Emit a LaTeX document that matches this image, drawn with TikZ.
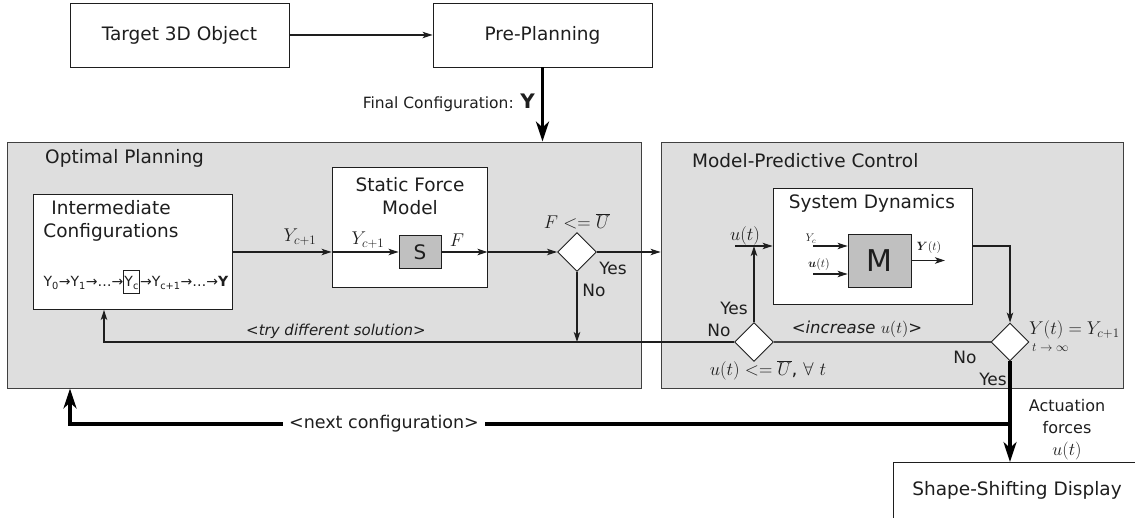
\RequirePackage{fix-cm}
\documentclass[tikz,border=0pt]{standalone}
\usepackage[no-math]{fontspec}
\setmainfont{DejaVu Sans}
\usepackage{bm}
\usetikzlibrary{arrows.meta,shapes.geometric,calc}
\definecolor{panelgray}{HTML}{DEDEDE}
\definecolor{blockgray}{HTML}{C0C0C0}
\definecolor{ink}{HTML}{1E1E1E}
\newcommand{\fs}[1]{\fontsize{#1}{#1}\selectfont}
\begin{document}
\begin{tikzpicture}[x=1pt,y=-1pt,
  font=\fontsize{18.5}{23}\selectfont, text=ink,
  box/.style={draw=ink, line width=0.9pt, fill=white, inner sep=0pt},
  panel/.style={draw=black!75, line width=0.9pt, fill=panelgray, inner sep=0pt},
  block/.style={draw=ink, line width=0.9pt, fill=blockgray, inner sep=0pt},
  decision/.style={diamond, draw=ink, line width=0.9pt, fill=white, inner sep=0pt, minimum width=39pt, minimum height=39pt},
  conn/.style={line width=1.2pt, draw=ink, -{Stealth[length=10pt,width=6.5pt,inset=2.5pt]}},
  plain/.style={line width=1.7pt, draw=black!72},
  thickconn/.style={line width=3.2pt, draw=black, -{Stealth[length=20pt,width=13pt,inset=6pt]}},
  lbl/.style={inner sep=0pt},
  small/.style={font=\fs{17}},
  ital/.style={font=\fs{15}\itshape}
]
\useasboundingbox (0,0) rectangle (1135,518);
\clip (0,0) rectangle (1135,518);

% top boxes
\node[box, minimum width=219pt, minimum height=64pt] (target) at (179.5,35) {Target 3D Object};
\node[box, minimum width=219pt, minimum height=64pt] (pre) at (542.5,35) {Pre-Planning};

% panels
\node[panel, minimum width=634pt, minimum height=246pt] (op) at (324,265) {};
\node[panel, minimum width=462pt, minimum height=246pt] (mpc) at (892,265) {};
\node[lbl, anchor=west] (optitle) at (45,158) {Optimal Planning};
\node[lbl, anchor=west] (mpctitle) at (692,161) {Model-Predictive Control};

% optimal planning content
\node[box, minimum width=199pt, minimum height=115pt] (ic) at (132.5,252) {};
\node[lbl, align=center] (ictitle) at (111,221) {Intermediate\\Configurations};
\node[lbl, font=\fs{14}] (seq) at (136,282) {Y\textsubscript{0}→Y\textsubscript{1}→…→\setlength{\fboxsep}{0.3pt}\setlength{\fboxrule}{0.8pt}\fbox{\rule[-6pt]{0pt}{22pt}Y\textsubscript{c}}→Y\textsubscript{c+1}→…→\textbf{Y}};

\node[box, minimum width=155pt, minimum height=120pt] (sfm) at (409.5,227) {};
\node[lbl, align=center] (sfmtitle) at (410,196.5) {Static Force\\Model};
\node[block, minimum width=42pt, minimum height=33pt, font=\fs{20}] (S) at (420,252) {S};

\node[decision] (d1) at (577,252) {};

% MPC content
\node[box, minimum width=199pt, minimum height=116pt] (sd) at (872.5,246) {};
\node[lbl] (sdtitle) at (872,203) {System Dynamics};
\node[block, minimum width=63pt, minimum height=53pt, font=\fs{30}] (M) at (879.5,260.5) {M};

\node[decision] (d2) at (754,342) {};
\node[decision, minimum width=38pt, minimum height=38pt] (d3) at (1010,342) {};

% bottom box
\node[box, minimum width=248pt, minimum height=70pt, anchor=north west] (ssd) at (893,462) {};
\node[lbl] (ssdtitle) at (1017,490) {Shape-Shifting Display};

% coordinates
\coordinate (sfmout) at (sfm.east |- S.east);
\coordinate (nojoin) at (d1.south |- d2.west);
\coordinate (icret) at (104,342);
\coordinate (ujoin) at (d2.north |- sd.west);
\coordinate (ustart) at (735,246);
\coordinate (ycin) at (813,246);
\coordinate (uin) at (813,274);
\coordinate (yout) at (945,260.5);
\coordinate (sdturn) at (d3.north |- sd.east);
\coordinate (br) at (1010,424);
\coordinate (bl) at (70,424);

% connectors
\draw[conn] (target.east) -- (pre.west);
\draw[thickconn] (pre.south) -- (pre.south |- op.north);
\draw[conn] (ic.east) -- (sfm.west |- ic.east);
\draw[conn] (sfm.west |- S.west) -- (S.west);
\draw[conn] (S.east) -- (sfmout);
\draw[conn] (sfmout) -- (d1.west);
\draw[conn] (d1.east) -- (mpc.west |- d1.east);
\draw[conn] (d1.south) -- (nojoin);
\draw[plain] (d3.west) -- (d2.east);
\draw[conn] (d2.west) -- (icret) -- (icret |- ic.south);
\draw[conn] (d2.north) -- (ujoin);
\draw[conn] (ustart) -- (sd.west);
\draw[conn] (ycin) -- (ycin -| M.west);
\draw[conn] (uin) -- (uin -| M.west);
\draw[conn] (yout -| M.east) -- (yout);
\draw[conn] (sd.east) -- (sdturn) -- (d3.north);
\draw[thickconn] (d3.south) -- (d3.south |- ssd.north);
\draw[thickconn] (br) -- (bl) -- (bl |- op.south);

% labels
\node[lbl, anchor=east, font=\fs{15.5}] (fc) at (535,103) {Final Configuration: {\fs{20}\bfseries Y}};
\node[lbl] (lyc1) at (300,237) {$Y_{c+1}$};
\node[lbl] (lyc2) at (368,240) {$Y_{c+1}$};
\node[lbl] (lF) at (457,240) {$F$};
\node[lbl] (lcond1) at (577,221) {$F<=\overline{U}$};
\node[lbl, small] (lyes1) at (613,268) {Yes};
\node[lbl, small] (lno1) at (594,290) {No};
\node[lbl, ital] (ltry) at (336,331) {<try different solution>};
\node[lbl] (lu) at (745,236) {$u(t)$};
\node[lbl, small] (lyes2) at (734,308) {Yes};
\node[lbl, small] (lno2) at (719,330) {No};
\node[lbl] (lcond2) at (768,370) {$u(t) <= \overline{U}$, $\forall\ t$};
\node[lbl, font=\fs{16.5}\itshape] (linc) at (857,329) {<increase $u(t)$>};
\node[lbl, font=\fs{11}] (lyc) at (811,239) {$Y_c$};
\node[lbl, font=\fs{12}] (lu2) at (819,265) {$\bm{u}(t)$};
\node[lbl, font=\fs{12}] (lyt) at (929,248) {$\bm{Y}(t)$};
\node[lbl, anchor=west] (lcond3) at (1029,330) {$Y(t) = Y_{c+1}$};
\node[lbl, anchor=west, font=\fs{12.5}] (linf) at (1032,348) {$t \rightarrow \infty$};
\node[lbl, small] (lno3) at (965,357) {No};
\node[lbl, small] (lyes3) at (993,379) {Yes};
\node[fill=white, inner xsep=6pt, inner ysep=2pt, font=\fs{17.5}] (lnext) at (384,424) {<next configuration>};
\node[lbl, align=center, font=\fontsize{16}{22}\selectfont] (lact) at (1067,430) {Actuation\\forces\\{\fs{18}$u(t)$}};
\end{tikzpicture}
\end{document}
